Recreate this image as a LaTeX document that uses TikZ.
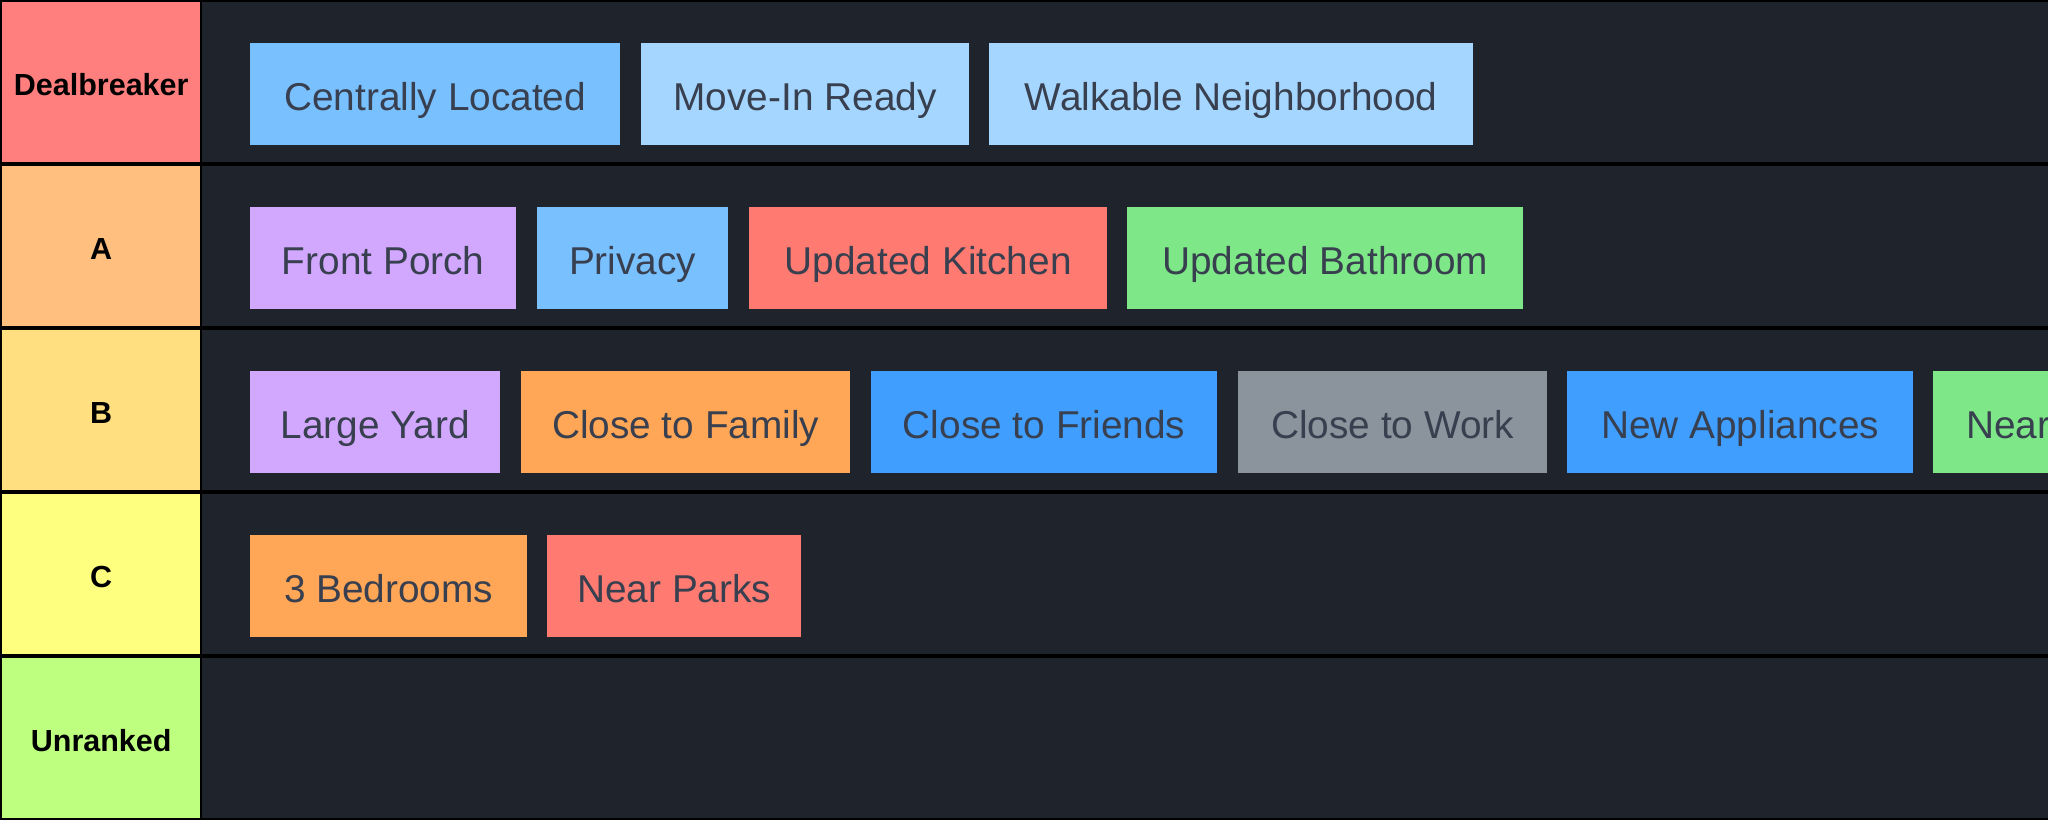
\documentclass[tikz,border=0pt]{standalone}
\usepackage{fontspec}
\setmainfont{Liberation Sans}
\definecolor{bg}{HTML}{1F232B}
\definecolor{tiletext}{HTML}{383F4F}
\definecolor{tierS}{HTML}{FF7F7F}
\definecolor{tierA}{HTML}{FFBF7F}
\definecolor{tierB}{HTML}{FFDF7F}
\definecolor{tierC}{HTML}{FFFF7F}
\definecolor{tierU}{HTML}{BFFF7F}
\definecolor{tblue}{HTML}{79C0FF}
\definecolor{tpale}{HTML}{A5D6FF}
\definecolor{tpurple}{HTML}{D2A8FF}
\definecolor{tred}{HTML}{FF7B72}
\definecolor{tgreen}{HTML}{7EE787}
\definecolor{torange}{HTML}{FFA657}
\definecolor{tdeep}{HTML}{409EFF}
\definecolor{tgrey}{HTML}{8B939D}
\begin{document}
\begin{tikzpicture}[x=1pt,y=-1pt,
  tier/.style={anchor=north west, inner sep=0pt, minimum width=198pt, minimum height=160pt,
    font=\fontsize{30.5}{31}\selectfont\bfseries, text=black, text height=26pt, text depth=0pt},
  lane/.style={anchor=north west, inner sep=0pt, fill=bg, minimum width=1846pt, minimum height=160pt},
  tile/.style={anchor=north west, inner sep=0pt, minimum height=102pt,
    font=\fontsize{38.8}{40}\selectfont, text=tiletext, text height=32pt, text depth=0pt}]
\useasboundingbox (0,0) rectangle (2048,820);
\clip (0,0) rectangle (2048,820);
\fill[black] (0,0) rectangle (2048,820);
% tier labels and lanes
\node[tier, fill=tierS] (lS) at (2,2) {Dealbreaker};
\node[lane] (rS) at (202,2) {};
\node[tier, fill=tierA] (lA) at (2,166) {A};
\node[lane] (rA) at (202,166) {};
\node[tier, fill=tierB] (lB) at (2,330) {B};
\node[lane] (rB) at (202,330) {};
\node[tier, fill=tierC] (lC) at (2,494) {C};
\node[lane] (rC) at (202,494) {};
\node[tier, fill=tierU] (lU) at (2,658) {Unranked};
\node[lane] (rU) at (202,658) {};
% row Dealbreaker
\node[tile, fill=tblue, minimum width=370pt] (s1) at (250,43) {Centrally Located};
\node[tile, fill=tpale, minimum width=328pt] (s2) at (641,43) {Move-In Ready};
\node[tile, fill=tpale, minimum width=484pt] (s3) at (989,43) {Walkable Neighborhood};
% row A
\node[tile, fill=tpurple, minimum width=266pt] (a1) at (250,207) {Front Porch};
\node[tile, fill=tblue, minimum width=191pt] (a2) at (537,207) {Privacy};
\node[tile, fill=tred, minimum width=358pt] (a3) at (749,207) {Updated Kitchen};
\node[tile, fill=tgreen, minimum width=396pt] (a4) at (1127,207) {Updated Bathroom};
% row B
\node[tile, fill=tpurple, minimum width=250pt] (b1) at (250,371) {Large Yard};
\node[tile, fill=torange, minimum width=329pt] (b2) at (521,371) {Close to Family};
\node[tile, fill=tdeep, minimum width=346pt] (b3) at (871,371) {Close to Friends};
\node[tile, fill=tgrey, minimum width=309pt] (b4) at (1238,371) {Close to Work};
\node[tile, fill=tdeep, minimum width=346pt] (b5) at (1567,371) {New Appliances};
\node[tile, fill=tgreen, inner xsep=33pt, text width=150pt, align=left] (b6) at (1933,371) {Near};
% row C
\node[tile, fill=torange, minimum width=277pt] (c1) at (250,535) {3 Bedrooms};
\node[tile, fill=tred, minimum width=254pt] (c2) at (547,535) {Near Parks};
\end{tikzpicture}
\end{document}
